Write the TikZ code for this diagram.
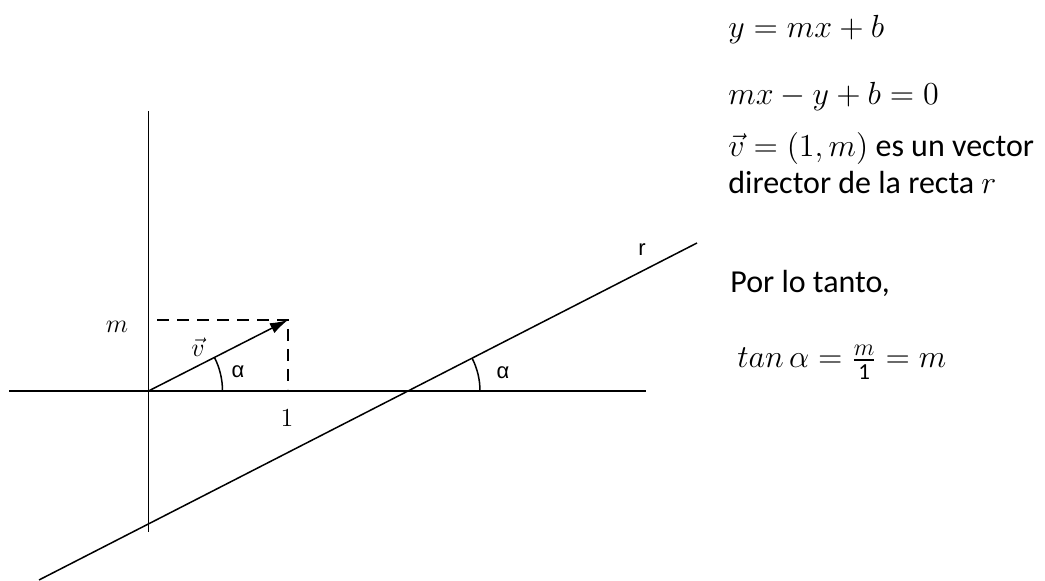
\RequirePackage{fix-cm}
\documentclass[tikz,border=0pt]{standalone}
\usepackage{amsmath}
\usepackage{graphicx}
\usepackage{fontspec}
\setmainfont{Carlito}
\newfontfamily\greeksans{Liberation Sans}
\newcommand\fracsize{\fontsize{11.5}{13}\selectfont}
\usetikzlibrary{positioning}
\usetikzlibrary{arrows.meta}
\tikzset{
    axisline/.style={
        line width=0.75pt
    },
    guide/.style={
        line width=0.75pt,
        dash pattern=on 6pt off 4pt
    },
    vec/.style={
        line width=0.75pt,
        -{Latex[length=9pt,width=5.5pt]}
    },
    lbl/.style={
        font=\fontsize{13}{15}\selectfont,
        inner sep=0pt
    },
    anglbl/.style={
        font=\greeksans\fontsize{11}{13}\selectfont,
        inner sep=0pt
    },
    txt/.style={
        font=\fontsize{16}{19}\selectfont,
        inner sep=0pt
    }
}

\begin{document}
\begin{tikzpicture}[x=0.5pt, y=0.5pt]
    \useasboundingbox (0,0) rectangle (1045,581);
    % ejes
    \coordinate (O) at (148.5,190);
    \coordinate (xl) at (9,190);
    \coordinate (xr) at (646,190);
    \coordinate (yt) at (148.5,470);
    \coordinate (yb) at (148.5,49);
    \draw[axisline] (xl) -- (xr);
    \draw[axisline] (yt) -- (yb);
    % recta r
    \coordinate (rl) at (39,1);
    \coordinate (rr) at (697,338);
    \coordinate (P) at (408,190);
    \draw[axisline] (rl) -- (rr);
    % vector director
    \coordinate (V) at (288,261);
    \coordinate (mv) at (157,261);
    \coordinate (uv) at (288,192);
    \draw[guide] (mv) -- (V) -- (uv);
    \draw[vec] (O) -- (V);
    % angulos
    \draw[axisline] ([xshift=37pt]O) arc[start angle=0, end angle=27, radius=37pt];
    \draw[axisline] ([xshift=36pt]P) arc[start angle=0, end angle=27, radius=36pt];
    % etiquetas
    \node[lbl] (mlbl) at (117,254) {$m$};
    \node[lbl] (vlbl) at (198,234) {$\vec{v}$};
    \node[lbl] (one) at (287,163) {$1$};
    \node[anglbl] (a1) at (238,209) {α};
    \node[anglbl] (a2) at (503,208) {α};
    \node[anglbl] (rlbl) at (642,331) {r};
    % texto
    \node[txt, anchor=base west] (eq1) at (728,543) {$y = mx + b$};
    \node[txt, below=33.5pt of eq1.base west, anchor=base west] (eq2) {$mx - y + b = 0$};
    \node[txt, below=26pt of eq2.base west, anchor=base west] (eq3) {$\vec{v} = (1, m)$ es un vector};
    \node[txt, below=18.5pt of eq3.base west, anchor=base west] (dir) {director de la recta $r$};
    \node[txt, below=49.5pt of dir.base west, anchor=base west, xshift=1pt] (por) {Por lo tanto,};
    \node[txt, below=37.5pt of por.base west, anchor=base west, xshift=3.5pt] (tan)
        {$tan\,\alpha = \genfrac{}{}{1.2pt}{}{\scalebox{0.75}{$m$}}{\mbox{\fracsize 1}} = m$};
\end{tikzpicture}
\end{document}
